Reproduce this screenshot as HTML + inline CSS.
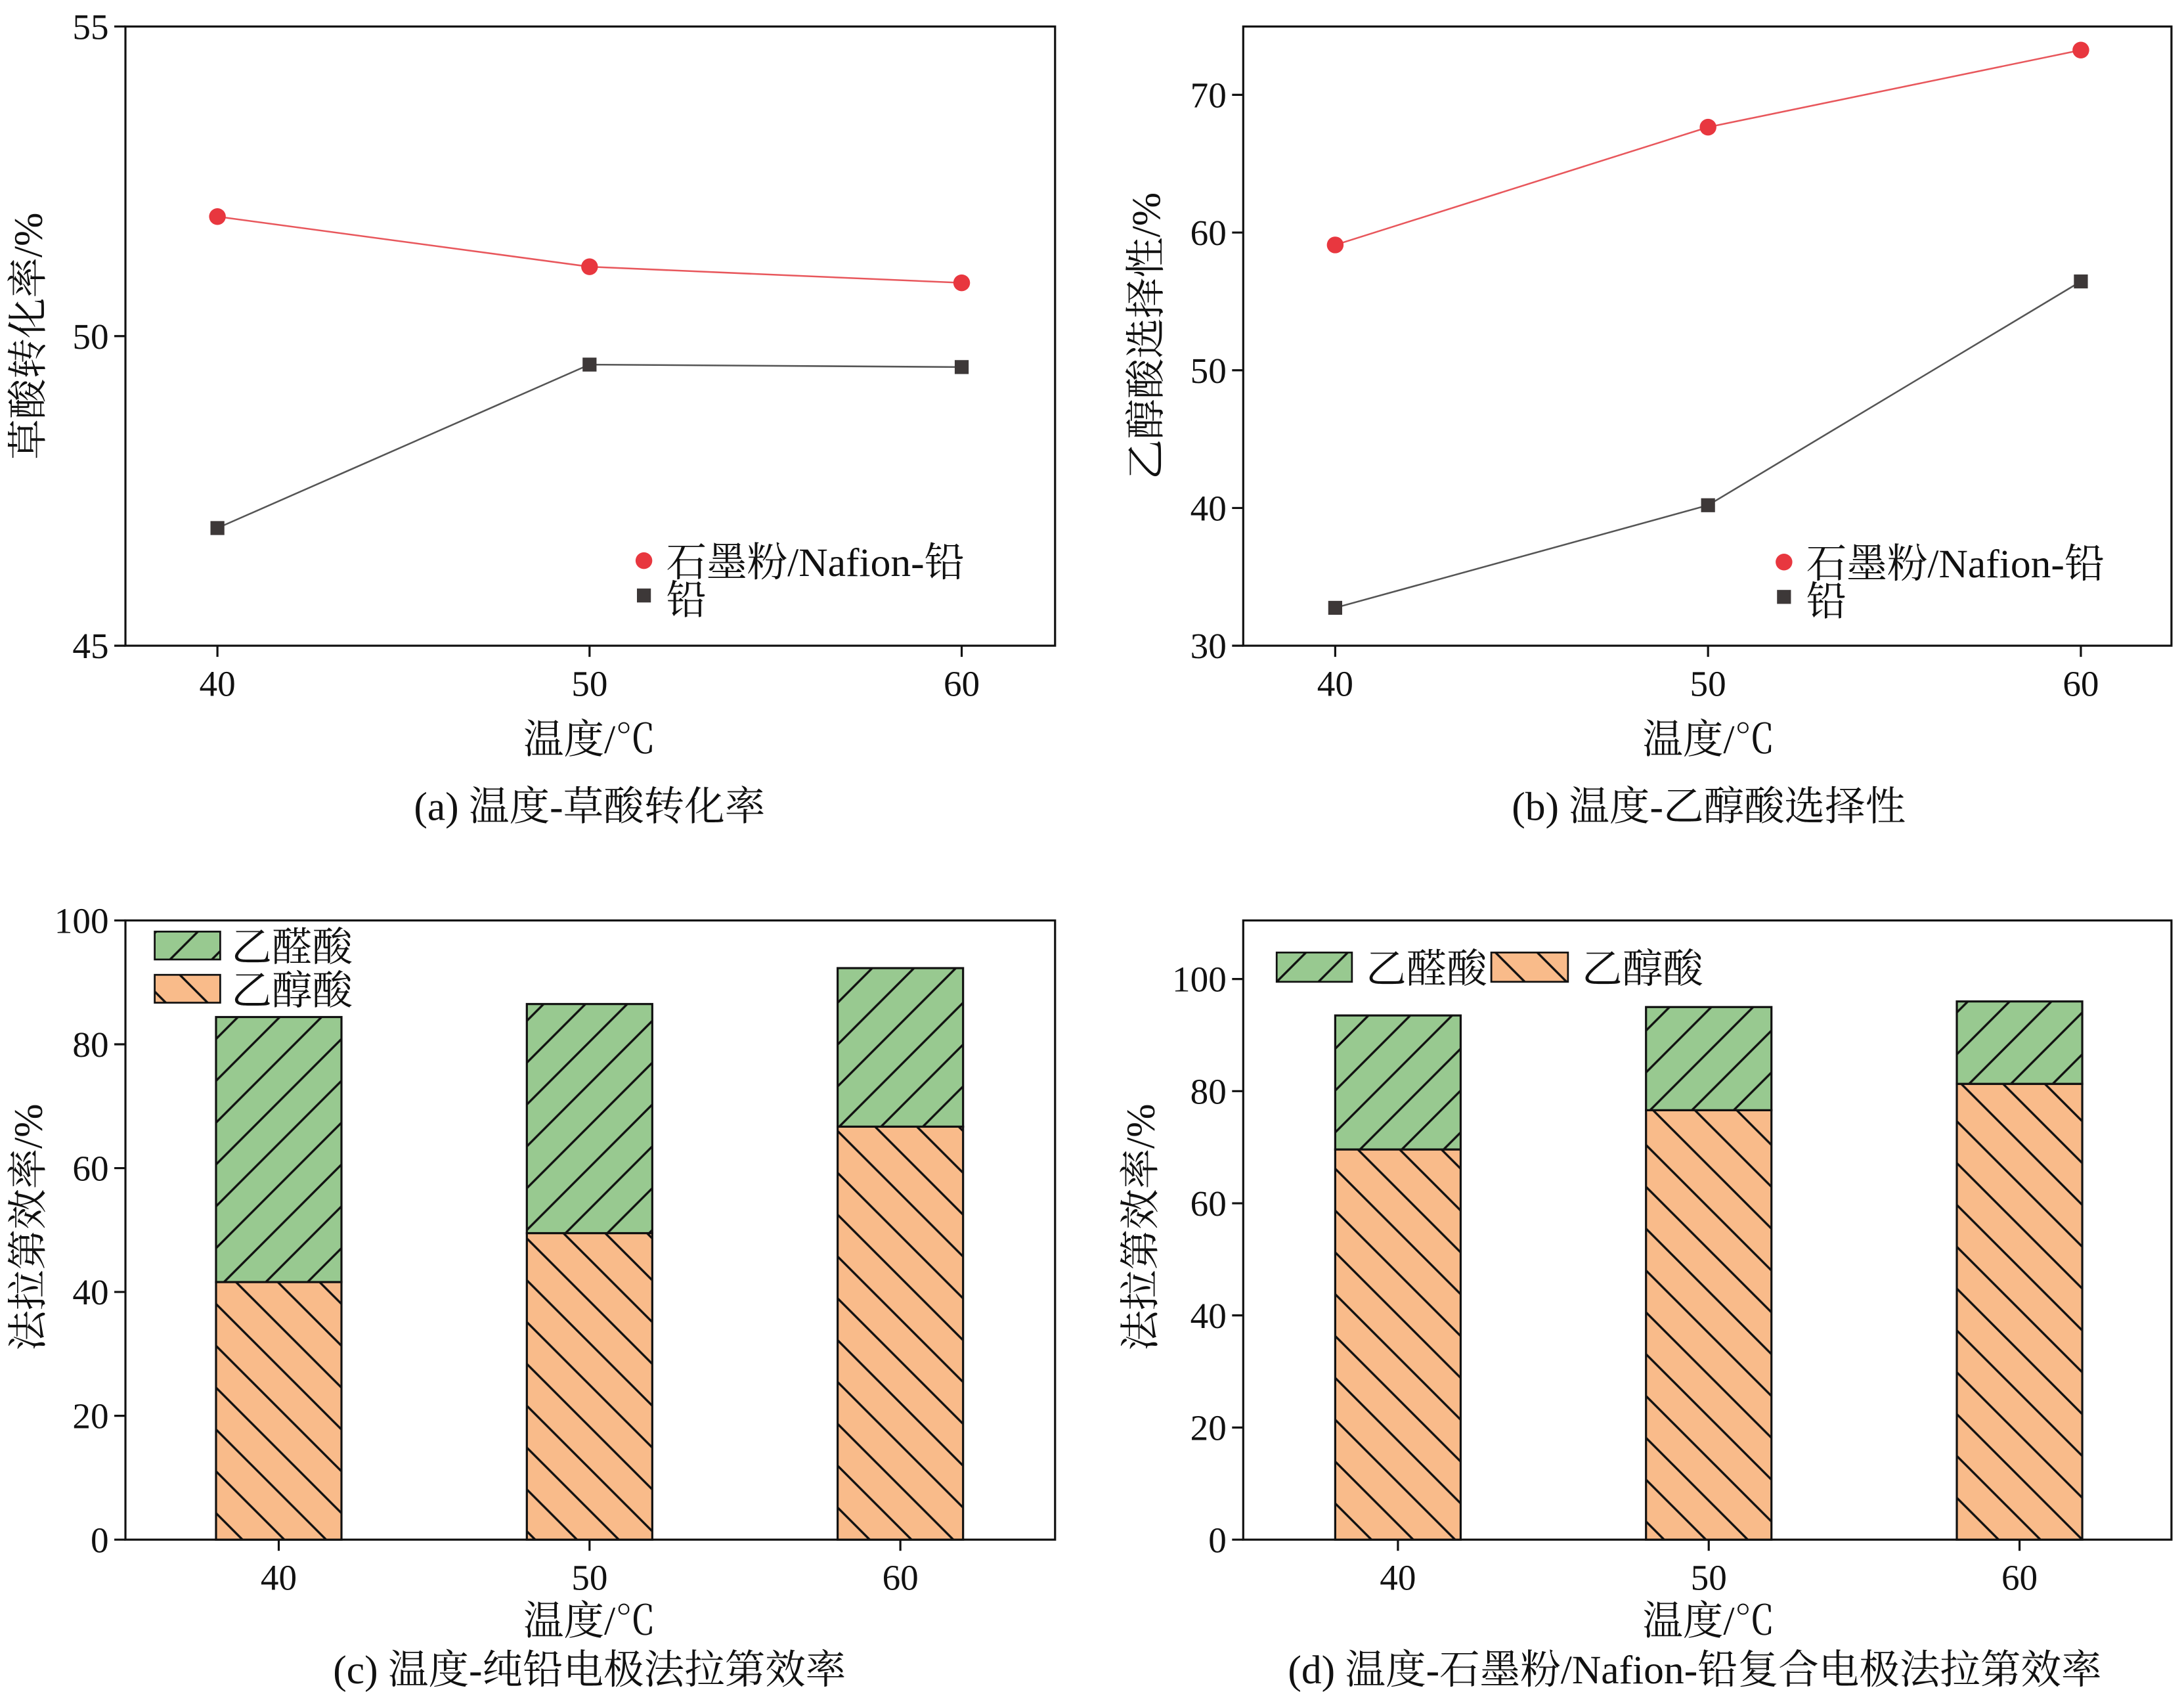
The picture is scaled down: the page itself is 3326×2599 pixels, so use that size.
<!DOCTYPE html>
<html><head><meta charset="utf-8">
<style>
html,body{margin:0;padding:0;background:#fff;}
svg{display:block;}
text{font-family:"Liberation Serif","Noto Serif CJK SC",serif;fill:#111;}
</style></head>
<body>
<svg id="fig" width="3326" height="2599" viewBox="0 0 1567 1224" preserveAspectRatio="none" xmlns="http://www.w3.org/2000/svg">
<defs>
<pattern id="hatchF" patternUnits="userSpaceOnUse" width="30" height="30">
<rect width="30" height="30" fill="#98c990"/>
<path d="M-5,5 L5,-5 M0,30 L30,0 M25,35 L35,25" stroke="#111" stroke-width="1.6"/>
</pattern>
<pattern id="hatchB" patternUnits="userSpaceOnUse" width="30" height="30">
<rect width="30" height="30" fill="#f9bb8a"/>
<path d="M-5,25 L5,35 M0,0 L30,30 M25,-5 L35,5" stroke="#111" stroke-width="1.6"/>
</pattern>
</defs>
<g id="root"></g>
</svg>
<script>
// Panel (a) data
const catsA = [40, 50, 60];
const compA = [51.93, 51.12, 50.86];
const leadA = [46.9, 49.54, 49.5];
const ticksA = [45, 50, 55];
// Panel (b) data
const catsB = [40, 50, 60];
const compB = [59.1, 67.65, 73.25];
const leadB = [32.75, 40.2, 56.45];
const ticksB = [30, 40, 50, 60, 70];
// Panel (c) data
const catsC = [40, 50, 60];
const alcC = [41.6, 49.5, 66.7];
const glyC = [42.8, 37.0, 25.6];
const ticksC = [0, 20, 40, 60, 80, 100];
// Panel (d) data
const catsD = [40, 50, 60];
const alcD = [69.6, 76.6, 81.3];
const glyD = [23.9, 18.4, 14.7];
const ticksD = [0, 20, 40, 60, 80, 100];

const NS = "http://www.w3.org/2000/svg";
const root = document.getElementById('root');
const FS = 29;
function mk(tag, attrs, parent, txt){
  const e = document.createElementNS(NS, tag);
  for (const k in attrs) e.setAttribute(k, attrs[k]);
  if (txt !== undefined) e.textContent = txt;
  (parent || root).appendChild(e);
  return e;
}
function lin(d0, d1, r0, r1){ return v => r0 + (v - d0) * (r1 - r0) / (d1 - d0); }

function frame(id, x0, x1, y0, y1, ys, ticks, xs, cats){
  const g = mk('g', {});
  
  
  const r = mk('rect', {x:x0, y:y0, width:x1-x0, height:y1-y0, fill:'none', stroke:'#111', 'stroke-width':1.5}, g);
  
  
  ticks.forEach(t => {
    const y = ys(t);
    const l = mk('line', {x1:x0-8, x2:x0, y1:y, y2:y, stroke:'#111', 'stroke-width':1.5}, g);
    
    
    const tx = mk('text', {x:x0-12, y:y+9, 'text-anchor':'end', 'font-size':26}, g, t);
    
    
  });
  cats.forEach((c, i) => {
    const x = xs(i);
    const l = mk('line', {x1:x, x2:x, y1:y1, y2:y1+8, stroke:'#111', 'stroke-width':1.5}, g);
    
    
    const tx = mk('text', {x:x, y:y1+36, 'text-anchor':'middle', 'font-size':26}, g, c);
    
    
  });
  return g;
}
function label(txt, x, y, name, rot){
  const t = mk('text', {x:x, y:y, 'text-anchor':'middle', 'font-size':FS, transform: rot ? `rotate(-90 ${x} ${y})` : ''}, root, txt);
  
  
}
function lineSeries(g, cats, vals, xs, ys, color, marker, name){
  const pts = vals.map((v, i) => `${xs(i)},${ys(v)}`).join(' ');
  const pl = mk('polyline', {points:pts, fill:'none', stroke:color, 'stroke-width':1.2}, g);
  
  
  vals.forEach((v, i) => {
    let m;
    if (marker === 'circle') m = mk('circle', {cx:xs(i), cy:ys(v), r:6, fill:'#e8373f'}, g);
    else m = mk('rect', {x:xs(i)-5, y:ys(v)-5, width:10, height:10, fill:'#3d3838'}, g);
    
    
  });
}
function legendLine(g, x, y){
  const c = mk('circle', {cx:x, cy:y, r:6, fill:'#e8373f'}, g);
  
  
  const t1 = mk('text', {x:x+16, y:y+11, 'font-size':FS}, g, '石墨粉/Nafion-铅');
  
  
  const s = mk('rect', {x:x-5, y:y+20, width:10, height:10, fill:'#3d3838'}, g);
  
  
  const t2 = mk('text', {x:x+16, y:y+38, 'font-size':FS}, g, '铅');
  
  
}
function bars(g, alc, gly, xs, ys, w){
  alc.forEach((a, i) => {
    const x = xs(i) - w/2;
    const r1 = mk('rect', {x:x, y:ys(a), width:w, height:ys(0)-ys(a), fill:'url(#hatchB)', stroke:'#111', 'stroke-width':1.5}, g);
    
    
    const top = a + gly[i];
    const r2 = mk('rect', {x:x, y:ys(top), width:w, height:ys(a)-ys(top), fill:'url(#hatchF)', stroke:'#111', 'stroke-width':1.5}, g);
    
    
  });
}
function swatch(g, x, y, w, h, fill, txt, tx, name){
  const r = mk('rect', {x:x, y:y, width:w, height:h, fill:fill, stroke:'#111', 'stroke-width':1.3}, g);
  
  
  const t = mk('text', {x:tx, y:y+h/2+11, 'font-size':FS}, g, txt);
  
  
}

// (a)
{
  const ys = lin(45, 55, 463, 19), xs = i => 156 + i*267;
  const g = frame('a', 90, 757, 19, 463, ys, ticksA, xs, catsA);
  lineSeries(g, catsA, compA, xs, ys, '#e8575c', 'circle', 'composite');
  lineSeries(g, catsA, leadA, xs, ys, '#555', 'square', 'lead');
  legendLine(g, 462, 402);
  label('草酸转化率/%', 30, 241, 'y-axis-title-a', true);
  label('温度/℃', 423, 540, 'x-axis-title-a');
  label('(a) 温度-草酸转化率', 423, 588, 'caption-a');
}
// (b)
{
  const ys = lin(30, 70, 463, 68), xs = i => 958 + i*267.5;
  const g = frame('b', 892, 1558, 19, 463, ys, ticksB, xs, catsB);
  lineSeries(g, catsB, compB, xs, ys, '#e8575c', 'circle', 'composite');
  lineSeries(g, catsB, leadB, xs, ys, '#555', 'square', 'lead');
  legendLine(g, 1280, 403);
  label('乙醇酸选择性/%', 832, 241, 'y-axis-title-b', true);
  label('温度/℃', 1226, 540, 'x-axis-title-b');
  label('(b) 温度-乙醇酸选择性', 1226, 588, 'caption-b');
}
// (c)
{
  const ys = lin(0, 100, 1104, 660), xs = i => 200 + i*223;
  const g = frame('c', 90, 757, 660, 1104, ys, ticksC, xs, catsC);
  bars(g, alcC, glyC, xs, ys, 90);
  swatch(g, 111, 668, 47, 20, 'url(#hatchF)', '乙醛酸', 166, 'legend-glyoxylic-acid');
  swatch(g, 111, 699, 47, 20, 'url(#hatchB)', '乙醇酸', 166, 'legend-glycolic-acid');
  label('法拉第效率/%', 30, 880, 'y-axis-title-c', true);
  label('温度/℃', 423, 1172, 'x-axis-title-c');
  label('(c) 温度-纯铅电极法拉第效率', 423, 1207, 'caption-c');
}
// (d)
{
  const ys = lin(0, 100, 1104, 702), xs = i => 1003 + i*223;
  const g = frame('d', 892, 1558, 660, 1104, ys, ticksD, xs, catsD);
  bars(g, alcD, glyD, xs, ys, 90);
  swatch(g, 916, 683, 54, 21, 'url(#hatchF)', '乙醛酸', 980, 'legend-glyoxylic-acid');
  swatch(g, 1070, 683, 55, 21, 'url(#hatchB)', '乙醇酸', 1135, 'legend-glycolic-acid');
  label('法拉第效率/%', 828, 880, 'y-axis-title-d', true);
  label('温度/℃', 1226, 1172, 'x-axis-title-d');
  label('(d) 温度-石墨粉/Nafion-铅复合电极法拉第效率', 1216, 1207, 'caption-d');
}
</script>
</body></html>
